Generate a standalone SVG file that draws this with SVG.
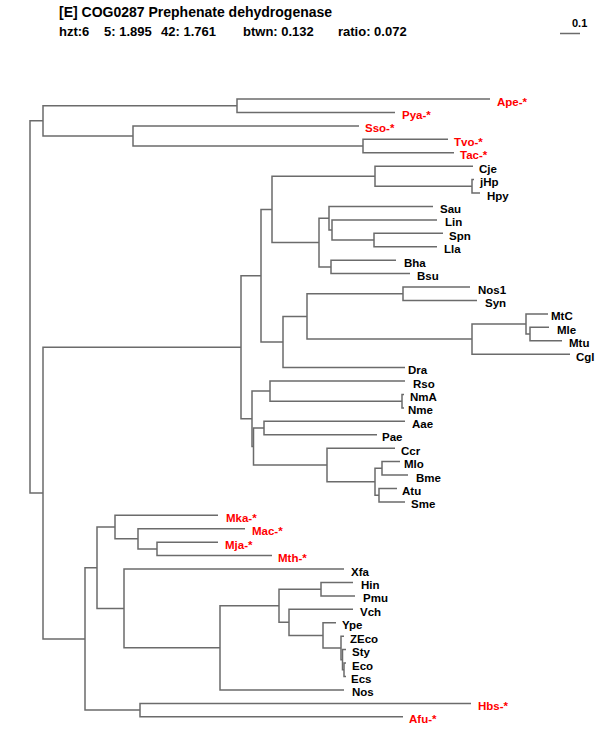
<svg xmlns="http://www.w3.org/2000/svg" width="600" height="750" viewBox="0 0 600 750">
<style>
.e{fill:none;stroke:#6b6b6b;stroke-width:1.5;stroke-linejoin:miter}
text{font-family:"Liberation Sans",Arial,Helvetica,sans-serif;font-weight:bold;font-size:11.5px;fill:#000}
.r{fill:#ff0000}
.h{font-size:13px}
.h1{font-size:14px}
.s{font-size:11px}
</style>
<rect width="600" height="750" fill="#fff"/>
<g id="header">
<text class="h1" x="59" y="17">[E] COG0287 Prephenate dehydrogenase</text>
<text class="h" x="59" y="36">hzt:6</text>
<text class="h" x="104" y="36">5: 1.895</text>
<text class="h" x="161" y="36">42: 1.761</text>
<text class="h" x="243" y="36">btwn: 0.132</text>
<text class="h" x="338" y="36">ratio: 0.072</text>
</g>
<g id="scalebar">
<path class="e" d="M560,33.5H580"/>
<text class="s" x="572" y="27">0.1</text>
</g>
<g id="connectors">
<path class="e" d="M30,307V120.8H43M30,307V493.1H43"/>
<path class="e" d="M43,120.8V105.7H237M43,120.8V136H133"/>
<path class="e" d="M237,105.7V99H490M237,105.7V112.4H395"/>
<path class="e" d="M133,136V125.9H359M133,136V146H363"/>
<path class="e" d="M363,146V139.3H448M363,146V152.7H454"/>
<path class="e" d="M43,493.1V347.3H241M43,493.1V638.9H85"/>
<path class="e" d="M241,347.3V275.7H261M241,347.3V418.8H252"/>
<path class="e" d="M261,275.7V209.4H272M261,275.7V342H283"/>
<path class="e" d="M272,209.4V176.2H375M272,209.4V242.5H319"/>
<path class="e" d="M375,176.2V166.2H473M375,176.2V186.3H472"/>
<path class="e" d="M472,186.3V179.6H474M472,186.3V193H480"/>
<path class="e" d="M319,242.5V218.2H329M319,242.5V266.9H331"/>
<path class="e" d="M329,218.2V206.4H433M329,218.2V230H332"/>
<path class="e" d="M332,230V219.9H437M332,230V240H374"/>
<path class="e" d="M374,240V233.3H443M374,240V246.7H437"/>
<path class="e" d="M331,266.9V260.2H396M331,266.9V273.6H410"/>
<path class="e" d="M283,342V316.4H307M283,342V367.6H405"/>
<path class="e" d="M307,316.4V293.8H403M307,316.4V339.1H472"/>
<path class="e" d="M403,293.8V287H470M403,293.8V300.5H477"/>
<path class="e" d="M472,339.1V324H526M472,339.1V354.2H570"/>
<path class="e" d="M526,324V313.9H548M526,324V334H530"/>
<path class="e" d="M530,334V327.3H549M530,334V340.7H562"/>
<path class="e" d="M252,418.8V391.1H270M252,418.8V446.5H253.5"/>
<path class="e" d="M270,391.1V381H405M270,391.1V401.2H402"/>
<path class="e" d="M402,401.2V394.5H404M402,401.2V407.9H404"/>
<path class="e" d="M253.5,446.5V428H264M253.5,446.5V465H327"/>
<path class="e" d="M264,428V421.3H405M264,428V434.8H377"/>
<path class="e" d="M327,465V448.2H395M327,465V481.8H375"/>
<path class="e" d="M375,481.8V468.3H382M375,481.8V495.2H379"/>
<path class="e" d="M382,468.3V461.6H400M382,468.3V475H408"/>
<path class="e" d="M379,495.2V488.5H397M379,495.2V501.9H405"/>
<path class="e" d="M85,638.9V567.7H97M85,638.9V710.1H140"/>
<path class="e" d="M97,567.7V527H115M97,567.7V608.5H124"/>
<path class="e" d="M115,527V515.3H218M115,527V538.8H138"/>
<path class="e" d="M138,538.8V528.8H245M138,538.8V548.9H157"/>
<path class="e" d="M157,548.9V542.2H218M157,548.9V555.6H272"/>
<path class="e" d="M124,608.5V569.1H344M124,608.5V647.8H220"/>
<path class="e" d="M220,647.8V605.8H279M220,647.8V689.9H344"/>
<path class="e" d="M279,605.8V589.2H321M279,605.8V622.3H289"/>
<path class="e" d="M321,589.2V582.5H353M321,589.2V595.9H355"/>
<path class="e" d="M289,622.3V609.3H353M289,622.3V635.4H323"/>
<path class="e" d="M323,635.4V622.8H336M323,635.4V648H341"/>
<path class="e" d="M341,648V636.2H344M341,648V659.7H342.5"/>
<path class="e" d="M342.5,659.7V649.6H346M342.5,659.7V669.8H344"/>
<path class="e" d="M344,669.8V663.1H346M344,669.8V676.5H346"/>
<path class="e" d="M140,710.1V703.4H471M140,710.1V716.8H403"/>
</g>
<g id="leaf-Ape"><text class="r" x="497" y="105.5">Ape-*</text></g>
<g id="leaf-Pya"><text class="r" x="402" y="118.9">Pya-*</text></g>
<g id="leaf-Sso"><text class="r" x="365" y="132.4">Sso-*</text></g>
<g id="leaf-Tvo"><text class="r" x="454" y="145.8">Tvo-*</text></g>
<g id="leaf-Tac"><text class="r" x="460" y="159.2">Tac-*</text></g>
<g id="leaf-Cje"><text x="479" y="172.7">Cje</text></g>
<g id="leaf-jHp"><text x="480" y="186.1">jHp</text></g>
<g id="leaf-Hpy"><text x="487" y="199.5">Hpy</text></g>
<g id="leaf-Sau"><text x="440" y="212.9">Sau</text></g>
<g id="leaf-Lin"><text x="445" y="226.4">Lin</text></g>
<g id="leaf-Spn"><text x="449" y="239.8">Spn</text></g>
<g id="leaf-Lla"><text x="444" y="253.2">Lla</text></g>
<g id="leaf-Bha"><text x="404" y="266.7">Bha</text></g>
<g id="leaf-Bsu"><text x="417" y="280.1">Bsu</text></g>
<g id="leaf-Nos1"><text x="478" y="293.5">Nos1</text></g>
<g id="leaf-Syn"><text x="485" y="307">Syn</text></g>
<g id="leaf-MtC"><text x="551" y="320.4">MtC</text></g>
<g id="leaf-Mle"><text x="557" y="333.8">Mle</text></g>
<g id="leaf-Mtu"><text x="569" y="347.2">Mtu</text></g>
<g id="leaf-Cgl"><text x="576" y="360.7">Cgl</text></g>
<g id="leaf-Dra"><text x="408" y="374.1">Dra</text></g>
<g id="leaf-Rso"><text x="413" y="387.5">Rso</text></g>
<g id="leaf-NmA"><text x="410" y="400.5">NmA</text></g>
<g id="leaf-Nme"><text x="408" y="413.9">Nme</text></g>
<g id="leaf-Aae"><text x="412" y="427.8">Aae</text></g>
<g id="leaf-Pae"><text x="382" y="441.3">Pae</text></g>
<g id="leaf-Ccr"><text x="401" y="454.7">Ccr</text></g>
<g id="leaf-Mlo"><text x="404" y="468.1">Mlo</text></g>
<g id="leaf-Bme"><text x="416" y="481.5">Bme</text></g>
<g id="leaf-Atu"><text x="402" y="495">Atu</text></g>
<g id="leaf-Sme"><text x="411" y="508.4">Sme</text></g>
<g id="leaf-Mka"><text class="r" x="226" y="521.8">Mka-*</text></g>
<g id="leaf-Mac"><text class="r" x="252" y="535.3">Mac-*</text></g>
<g id="leaf-Mja"><text class="r" x="225" y="548.7">Mja-*</text></g>
<g id="leaf-Mth"><text class="r" x="278" y="562.1">Mth-*</text></g>
<g id="leaf-Xfa"><text x="351" y="575.6">Xfa</text></g>
<g id="leaf-Hin"><text x="361" y="589">Hin</text></g>
<g id="leaf-Pmu"><text x="363" y="602.4">Pmu</text></g>
<g id="leaf-Vch"><text x="360" y="615.8">Vch</text></g>
<g id="leaf-Ype"><text x="342" y="629.3">Ype</text></g>
<g id="leaf-ZEco"><text x="350" y="642.7">ZEco</text></g>
<g id="leaf-Sty"><text x="352" y="656.1">Sty</text></g>
<g id="leaf-Eco"><text x="352" y="669.6">Eco</text></g>
<g id="leaf-Ecs"><text x="351" y="683">Ecs</text></g>
<g id="leaf-Nos"><text x="352" y="696.4">Nos</text></g>
<g id="leaf-Hbs"><text class="r" x="478" y="709.9">Hbs-*</text></g>
<g id="leaf-Afu"><text class="r" x="409" y="723.3">Afu-*</text></g>
</svg>
